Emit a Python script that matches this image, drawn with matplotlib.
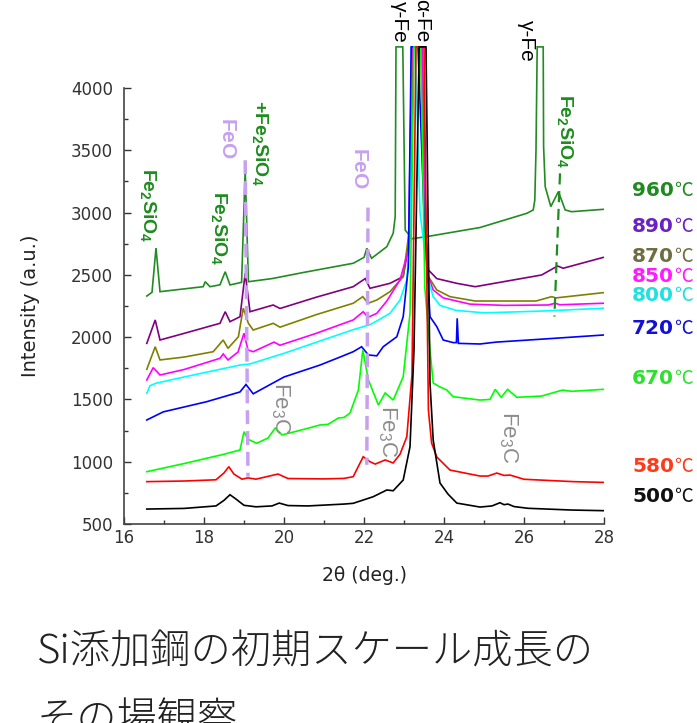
import matplotlib
matplotlib.use('Agg')
import matplotlib.pyplot as plt
from matplotlib.ticker import MultipleLocator

plt.rcParams['font.family'] = ['DejaVu Sans']
plt.rcParams['mathtext.fontset'] = 'custom'
plt.rcParams['mathtext.rm'] = 'Liberation Sans'
plt.rcParams['mathtext.bf'] = 'Liberation Sans:bold'
plt.rcParams['mathtext.it'] = 'Liberation Sans:italic'

# --- data (2theta in deg, intensity in a.u.) ---
# peaks that run off the top of the frame are given the clipped value 4330
tt_500 = [16.57, 17.5, 18.3, 18.5, 18.65, 18.8, 19.0, 19.3, 19.7, 19.88, 20.1, 20.6, 21.5, 21.73,
          22.23, 22.57, 22.73, 22.98, 23.15, 23.25, 23.38, 23.55, 23.65, 23.73, 23.9, 24.1, 24.32,
          24.9, 25.2, 25.4, 25.5, 25.6, 25.75, 26.1, 27.2, 27.98]
ii_500 = [620, 625, 645, 690, 735, 700, 650, 638, 645, 668, 648, 645, 660, 666,
          719, 773, 767, 853, 1120, 1900, 4330, 4330, 1632, 1174, 829, 740, 668,
          636, 645, 671, 655, 660, 640, 626, 612, 607]

tt_580 = [16.57, 17.5, 18.3, 18.5, 18.62, 18.75, 18.95, 19.1, 19.3, 19.85, 20.1, 21.0, 21.5, 21.73,
          21.98, 22.15, 22.28, 22.53, 22.73, 22.9, 23.07, 23.2, 23.3, 23.5, 23.61, 23.69, 23.82,
          24.15, 24.9, 25.1, 25.32, 25.5, 25.65, 26.0, 27.24, 27.98]
ii_580 = [840, 845, 855, 910, 960, 900, 860, 870, 860, 901, 865, 862, 866, 880,
          1040, 1000, 981, 1014, 990, 1060, 1200, 1700, 4330, 4330, 1415, 1150, 1038,
          933, 885, 885, 909, 890, 893, 859, 840, 834]

tt_670 = [16.57, 17.5, 18.5, 18.9, 19.0, 19.1, 19.32, 19.6, 19.78, 19.95, 20.5, 20.9, 21.1, 21.36,
          21.5, 21.65, 21.86, 21.97, 22.11, 22.36, 22.53, 22.73, 22.98, 23.15, 23.25, 23.42, 23.52,
          23.65, 23.73, 23.9, 24.07, 24.23, 24.9, 25.15, 25.28, 25.43, 25.59, 25.82, 26.44, 26.96,
          27.2, 27.98]
ii_670 = [920, 985, 1060, 1094, 1241, 1180, 1148, 1190, 1270, 1215, 1260, 1295, 1300, 1351,
          1355, 1391, 1576, 1897, 1656, 1455, 1552, 1495, 1682, 2190, 4330, 4330, 2400,
          1897, 1632, 1600, 1576, 1522, 1495, 1500, 1581, 1517, 1581, 1517, 1527, 1575,
          1565, 1581]

tt_720 = [16.57, 16.98, 18.07, 18.9, 19.05, 19.23, 20.0, 20.9, 21.4, 21.73, 21.94, 22.11, 22.32,
          22.48, 22.82, 22.98, 23.11, 23.18, 23.35, 23.5, 23.65, 23.82, 23.98, 24.23, 24.31, 24.33,
          24.36, 24.9, 25.3, 26.5, 27.98]
ii_720 = [1335, 1400, 1482, 1560, 1620, 1545, 1680, 1776, 1840, 1883, 1923, 1857, 1850,
          1923, 2003, 2164, 2566, 4330, 4330, 3000, 2164, 2084, 1977, 1956, 1956, 2151,
          1950, 1945, 1960, 1985, 2017]

tt_800 = [16.57, 16.65, 16.8, 17.5, 18.9, 19.15, 20.0, 21.0, 21.73, 22.15, 22.32, 22.65, 22.9,
          23.07, 23.15, 23.18, 23.28, 23.4, 23.61, 23.73, 23.9, 24.3, 25.0, 26.5, 27.98]
ii_800 = [1549, 1610, 1630, 1680, 1776, 1785, 1870, 1980, 2060, 2100, 2130, 2191, 2298,
          2459, 2834, 4330, 4330, 3000, 2459, 2325, 2255, 2215, 2195, 2210, 2232]

tt_850 = [16.57, 16.73, 16.9, 17.5, 18.4, 18.48, 18.6, 18.85, 19.0, 19.1, 19.23, 19.75, 19.9,
          20.8, 21.73, 21.98, 22.1, 22.32, 22.57, 22.9, 23.11, 23.2, 23.45, 23.55, 23.61, 23.73,
          23.98, 24.65, 25.5, 26.6, 26.78, 26.9, 27.98]
ii_850 = [1656, 1755, 1696, 1740, 1830, 1865, 1817, 1880, 2031, 1897, 1883, 1960, 1935,
          2030, 2138, 2204, 2159, 2191, 2290, 2459, 2700, 4330, 4330, 2800, 2486, 2379,
          2315, 2265, 2255, 2258, 2272, 2260, 2272]

tt_870 = [16.57, 16.78, 16.9, 17.5, 18.23, 18.48, 18.6, 18.86, 18.98, 19.11, 19.23, 19.73, 19.9,
          20.8, 21.73, 21.97, 22.1, 22.32, 22.65, 22.98, 23.15, 23.22, 23.42, 23.5, 23.61, 23.82,
          24.15, 24.78, 26.3, 26.69, 26.8, 27.98]
ii_870 = [1742, 1923, 1817, 1840, 1883, 1977, 1910, 2003, 2232, 2111, 2057, 2111, 2080,
          2180, 2272, 2325, 2272, 2298, 2365, 2486, 2900, 4330, 4330, 3000, 2486, 2379,
          2325, 2290, 2290, 2325, 2315, 2357]

tt_890 = [16.57, 16.78, 16.9, 17.5, 18.4, 18.53, 18.65, 18.9, 19.03, 19.15, 19.73, 19.9, 20.8,
          21.73, 22.03, 22.15, 22.65, 22.98, 23.15, 23.22, 23.45, 23.55, 23.61, 23.82, 24.32,
          24.78, 26.44, 26.84, 26.98, 27.98]
ii_890 = [1950, 2138, 1977, 2030, 2111, 2204, 2124, 2164, 2513, 2204, 2258, 2230, 2320,
          2405, 2470, 2392, 2432, 2486, 2800, 4330, 4330, 2800, 2539, 2470, 2432,
          2405, 2499, 2571, 2553, 2640]

tt_960 = [16.57, 16.7, 16.8, 16.9, 17.98, 18.03, 18.15, 18.4, 18.53, 18.65, 18.94, 19.03, 19.11,
          19.7, 20.5, 21.73, 22.0, 22.07, 22.19, 22.57, 22.73, 22.78, 22.8, 22.97, 23.03, 23.2,
          23.57, 24.9, 26.07, 26.23, 26.27, 26.3, 26.33, 26.48, 26.49, 26.53, 26.67, 26.86, 27.03,
          27.19, 27.98]
ii_960 = [2330, 2360, 2715, 2365, 2405, 2445, 2405, 2420, 2525, 2419, 2440, 3342, 2445,
          2470, 2520, 2593, 2640, 2713, 2633, 2726, 2834, 2967, 4330, 4330, 2860, 2790,
          2807, 2880, 2994, 3021, 3100, 3500, 4330, 4330, 3530, 3208, 3048, 3168, 3021,
          3007, 3026]

temps = ['960', '890', '870', '850', '800', '720', '670', '580', '500']

# --- styles ---
curve_colors = ['#228b22', '#800080', '#808000', '#ff00ff', '#00ffff', '#0000ff', '#00ff00',
                '#ff0000', '#000000']
label_colors = ['#1f8a1f', '#6a22c0', '#6e6e40', '#ff1aff', '#20e0e0', '#1010d8', '#2ee02e',
                '#ff3a1a', '#111111']
label_y = [3181, 2887, 2646, 2485, 2338, 2071, 1670, 960, 719]

green_txt = '#1e8c1e'
lavender = '#c8a0f0'
gray_txt = '#8c8c8c'

series_t = [tt_960, tt_890, tt_870, tt_850, tt_800, tt_720, tt_670, tt_580, tt_500]
series_i = [ii_960, ii_890, ii_870, ii_850, ii_800, ii_720, ii_670, ii_580, ii_500]

fig = plt.figure(figsize=(6.97, 7.23), dpi=100)
ax = fig.add_axes([124 / 697, 1 - 524 / 723, 480 / 697, 436 / 723])

for t, i, c in zip(series_t, series_i, curve_colors):
    ax.plot(t, i, color=c, lw=1.2, clip_on=False, solid_joinstyle='miter')

# dashed guide lines
ax.plot([19.03, 19.1], [3420, 880], color=lavender, lw=2.5, ls=(0, (4, 2)), clip_on=False)
ax.plot([22.1, 22.07], [3040, 975], color=lavender, lw=2.5, ls=(0, (4, 2)), clip_on=False)
ax.plot([26.9, 26.76], [3315, 2165], color=green_txt, lw=1.6, ls=(0, (5, 3)), clip_on=False)

# phase labels
sil = r'$\mathbf{Fe_2SiO_4}$'
ax.text(16.6, 3061, sil, color=green_txt, fontsize=14, rotation=270, ha='center', va='center')
ax.text(18.38, 2876, sil, color=green_txt, fontsize=14, rotation=270, ha='center', va='center')
ax.text(19.4, 3559, r'$\mathbf{+Fe_2SiO_4}$', color=green_txt, fontsize=14, rotation=270,
        ha='center', va='center')
ax.text(27.03, 3655, sil, color=green_txt, fontsize=14, rotation=270, ha='center', va='center')
ax.text(18.6, 3600, r'$\mathbf{FeO}$', color=lavender, fontsize=15, rotation=270,
        ha='center', va='center')
ax.text(21.9, 3358, r'$\mathbf{FeO}$', color=lavender, fontsize=15, rotation=270,
        ha='center', va='center')
for fx, fy in [(19.9, 1431), (22.575, 1247), (25.6, 1198)]:
    ax.text(fx, fy, r'$\mathrm{Fe_3C}$', color=gray_txt, fontsize=16, rotation=270,
            ha='center', va='center')
ax.text(22.875, 4361, 'γ-Fe', family='Liberation Sans', fontsize=15, rotation=270,
        ha='center', va='bottom')
ax.text(23.43, 4370, 'α-Fe', family='Liberation Sans', fontsize=15, rotation=270,
        ha='center', va='bottom')
ax.text(26.05, 4209, 'γ-Fe', family='Liberation Sans', fontsize=15, rotation=270,
        ha='center', va='bottom')

# temperature labels at the right
for lbl, ly, lc in zip(temps, label_y, label_colors):
    ax.text(28.7, ly, lbl, color=lc, fontsize=14.5, fontweight='bold', ha='left', va='center',
            clip_on=False)
    ax.text(29.76, ly, '℃', color=lc, fontsize=13.5, family='Noto Sans CJK JP',
            ha='left', va='center', clip_on=False)

ax.set_xlim(16, 28)
ax.set_ylim(500, 4000)
ax.xaxis.set_major_locator(MultipleLocator(2))
ax.xaxis.set_minor_locator(MultipleLocator(1))
ax.yaxis.set_major_locator(MultipleLocator(500))
ax.yaxis.set_minor_locator(MultipleLocator(250))
ax.tick_params(which='both', direction='in', colors='#333333', labelsize=12, width=1)
ax.tick_params(which='major', length=5)
ax.tick_params(which='minor', length=3)
ax.tick_params(axis='y', pad=8)
ax.spines['top'].set_visible(False)
ax.spines['right'].set_visible(False)
for s in ['left', 'bottom']:
    ax.spines[s].set_color('#444444')
    ax.spines[s].set_linewidth(1.2)
ax.patch.set_alpha(0)

ax.set_xlabel('2θ (deg.)', fontsize=13.5, color='#222222', labelpad=14)
ax.set_ylabel('Intensity (a.u.)', fontsize=14, color='#222222', labelpad=22)

# caption below the chart
fig.text(37 / 697, 1 - 663 / 723, 'Si添加鋼の初期スケール成長の', family='Noto Sans CJK JP',
         fontsize=29, fontweight='light', color='#222222', ha='left', va='baseline')
fig.text(37 / 697, 1 - 731 / 723, 'その場観察', family='Noto Sans CJK JP',
         fontsize=29, fontweight='light', color='#222222', ha='left', va='baseline')

fig.savefig('out.png', dpi=100)
